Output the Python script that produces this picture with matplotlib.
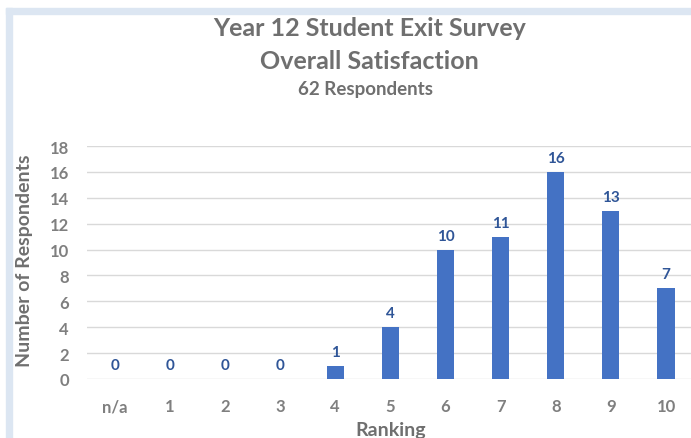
import matplotlib.pyplot as plt
from matplotlib.patches import Rectangle

# survey results: number of students giving each ranking
rankings = ['n/a', '1', '2', '3', '4', '5', '6', '7', '8', '9', '10']
counts = [0, 0, 0, 0, 1, 4, 10, 11, 16, 13, 7]
yticks = list(range(0, 20, 2))

title = "Year 12 Student Exit Survey"
subtitle = "Overall Satisfaction"
respondents = "62 Respondents"

plt.rcParams['font.family'] = ['Lato', 'DejaVu Sans']

W, H = 691, 439
gray = '#6f6f6f'
fig = plt.figure(figsize=(W / 100, H / 100), dpi=100)

# light blue frame on the top and left edges
frame = '#dce6f2'
fig.patches.append(Rectangle((6 / W, (H - 14.5) / H), 1, 5.5 / H,
                             transform=fig.transFigure, color=frame, zorder=0))
fig.patches.append(Rectangle((6 / W, 0), 5.5 / W, (H - 9) / H,
                             transform=fig.transFigure, color=frame, zorder=0))

ax = fig.add_axes([87 / W, 59 / H, 606.6 / W, 233 / H])
x = range(len(rankings))
bars = ax.bar(x, counts, width=0.31, color='#4472c4', zorder=3)
ax.bar_label(bars, padding=5, color='#2f5597', fontweight='bold', fontsize=11)

ax.set_xlim(-0.5, 10.5)
ax.set_ylim(0, 18)
ax.set_yticks(yticks)
ax.set_xticks(list(x))
ax.set_xticklabels(rankings)
ax.grid(axis='y', color='#d9d9d9', lw=1, zorder=0)
for s in ax.spines.values():
    s.set_visible(False)
ax.tick_params(length=0, labelcolor='#7f7f7f', labelsize=12)
ax.tick_params(axis='x', pad=14)
ax.tick_params(axis='y', pad=13)
for lab in ax.get_xticklabels() + ax.get_yticklabels():
    lab.set_fontweight('bold')

ax.set_xlabel("Ranking", color=gray, fontsize=14, fontweight='bold', labelpad=5)
fig.text(25 / W, 1 - 261 / H, "Number of Respondents", rotation=90,
         ha='center', va='center', color=gray, fontsize=14, fontweight='bold')

fig.text(370 / W, 1 - 28 / H, title, ha='center', va='center',
         color=gray, fontsize=18, fontweight='bold')
fig.text(369 / W, 1 - 61.5 / H, subtitle, ha='center', va='center',
         color=gray, fontsize=18, fontweight='bold')
fig.text(366 / W, 1 - 90 / H, respondents, ha='center', va='center',
         color=gray, fontsize=13.5, fontweight='bold')

fig.savefig('out.png', dpi=100)
